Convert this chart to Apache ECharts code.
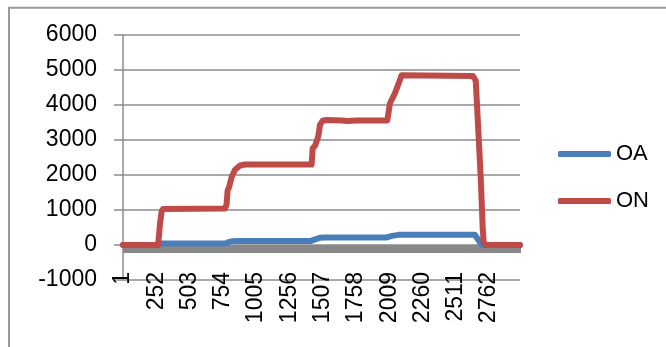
<!DOCTYPE html>
<html>
<head>
<meta charset="utf-8">
<script src="https://cdn.jsdelivr.net/npm/echarts@6/dist/echarts.min.js"></script>
<style>
  html, body { margin: 0; padding: 0; background: #fff; }
  #chart { width: 666px; height: 347px; }
</style>
</head>
<body>
<div id="chart"></div>
<script>
// Sample count along the horizontal axis (samples are numbered from 1)
const sampleCount = 2996;
// A label is printed on every 251st sample: 1, 252, 503, ...
const labelStep = 251;
const tickLabels = ['1', '252', '503', '754', '1005', '1256', '1507', '1758', '2009', '2260', '2511', '2762'];

// Vertical axis range and step
const yMin = -1000;
const yMax = 6000;
const yStep = 1000;

const seriesNames = ['OA', 'ON'];

// OA readings: sample number -> value
const oaSample = [1, 265, 285, 775, 800, 830, 870, 1420, 1450, 1490, 1520, 1990, 2030, 2080, 2100, 2655, 2670, 2690, 2712, 2996];
const oaValue  = [0,   0,  46,  46,  90, 110, 117,  117,  160,  210,  217,  217,  260,  290,  294,  294,  250,  100,    0,    0];

// ON readings: sample number -> value
const onSample = [1, 265, 272, 280, 292, 302, 315, 770, 782, 790, 803, 821, 846, 884, 921,
                  1424, 1432, 1449, 1462, 1474, 1487, 1507, 1537, 1650, 1700, 1760, 1995, 2000,
                  2015, 2028, 2040, 2053, 2066, 2086, 2103, 2115, 2640, 2652, 2662, 2680, 2700,
                  2715, 2722, 2735, 2996];
const onValue  = [0,   0, 250, 600, 950, 1030, 1040, 1040, 1150, 1550, 1680, 1950, 2150, 2270, 2300,
                  2300, 2760, 2830, 2860, 3100, 3430, 3550, 3570, 3560, 3545, 3560, 3560, 3530,
                  4050, 4100, 4240, 4340, 4390, 4670, 4850, 4830, 4830, 4870, 4700, 3400, 1900,
                  450, 80, 0, 0];

const categories = [];
for (let i = 1; i <= sampleCount; i++) categories.push(String(i));

// pair sample numbers with values; x is the zero-based category index
function pairs(samples, values) {
  return samples.map((s, i) => [s - 1, values[i]]);
}

const grey = '#8c8c8c';
const font = "'Liberation Sans', Arial, sans-serif";

const chart = echarts.init(document.getElementById('chart'), null, { renderer: 'canvas' });

chart.setOption({
  animation: false,
  backgroundColor: '#fff',
  color: ['#4a7ebb', '#be4b48'],
  textStyle: { fontFamily: font },
  graphic: [{
    type: 'rect',
    z: -10,
    shape: { x: 9, y: 7.7, width: 720, height: 400 },
    style: { fill: 'none', stroke: '#9a9a9a', lineWidth: 2 }
  }],
  grid: { left: 123, right: 146, top: 35, bottom: 67, containLabel: false },
  legend: {
    orient: 'vertical',
    left: 558,
    top: 143,
    itemGap: 25,
    itemWidth: 53,
    itemHeight: 6,
    icon: 'roundRect',
    padding: 0,
    textStyle: { fontSize: 22, color: '#000', fontFamily: font },
    data: seriesNames
  },
  xAxis: [{
    // axis through zero with a tick on every sample
    type: 'category',
    data: categories,
    position: 'top',
    boundaryGap: false,
    axisLine: { show: true, onZero: true, lineStyle: { color: grey, width: 1 } },
    axisTick: { show: true, inside: true, interval: 0, length: 8, lineStyle: { color: '#888', width: 1 } },
    axisLabel: { show: false },
    splitLine: { show: false }
  }, {
    // labels along the bottom edge
    type: 'category',
    data: categories,
    position: 'bottom',
    boundaryGap: false,
    axisLine: { show: false, onZero: false },
    axisTick: { show: false },
    axisLabel: {
      show: true,
      interval: labelStep - 1,
      rotate: 90,
      margin: -8,
      fontSize: 23,
      color: '#000',
      fontFamily: font,
      formatter: (v) => (tickLabels.indexOf(v) >= 0 ? v : '')
    },
    splitLine: { show: false }
  }],
  yAxis: {
    type: 'value',
    min: yMin,
    max: yMax,
    interval: yStep,
    axisLine: { show: true, lineStyle: { color: grey, width: 1.5 } },
    axisTick: { show: true, length: 9, lineStyle: { color: grey, width: 1.5 } },
    axisLabel: {
      margin: 26, fontSize: 23, color: '#000', fontFamily: font,
      formatter: (v) => String(v)
    },
    splitLine: { show: true, lineStyle: { color: grey, width: 1.5 } }
  },
  series: [{
    name: seriesNames[0],
    type: 'line',
    xAxisIndex: 0,
    symbol: 'none',
    data: pairs(oaSample, oaValue),
    lineStyle: { width: 6, cap: 'round', join: 'round' }
  }, {
    name: seriesNames[1],
    type: 'line',
    xAxisIndex: 0,
    symbol: 'none',
    data: pairs(onSample, onValue),
    lineStyle: { width: 6, cap: 'round', join: 'round' }
  }]
});
</script>
</body>
</html>
